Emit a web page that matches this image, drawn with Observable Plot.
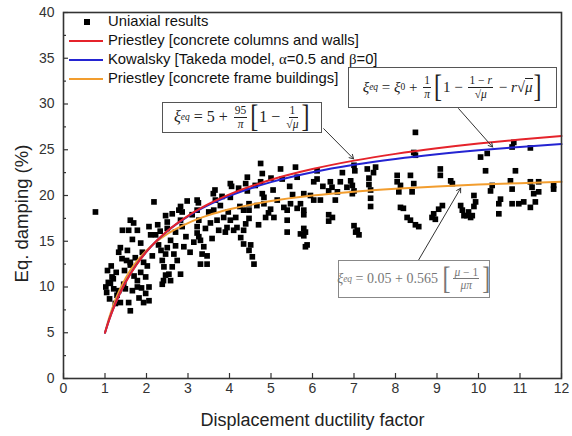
<!DOCTYPE html>
<html><head><meta charset="utf-8">
<script src="https://cdn.jsdelivr.net/npm/d3@7"></script>
<script src="https://cdn.jsdelivr.net/npm/@observablehq/plot@0.6"></script>
<style>
body{margin:0;background:#fff}
#wrap{position:relative;width:572px;height:436px;overflow:hidden}
#legend{position:absolute;left:69px;top:12px;font:14.8px "Liberation Sans",Arial,sans-serif;color:#111;line-height:19px;white-space:nowrap}
#legend .row{height:19px}
#legend .key{display:inline-block;width:34px;height:19px;margin-right:5px;position:relative;vertical-align:top}
#legend .key .ln{position:absolute;left:0;right:0;top:9px;height:2px}
#legend .key .sq{position:absolute;left:15px;top:6.5px;width:6px;height:6px;background:#000}
.box{position:absolute;border:1.5px solid #555;background:#fff;font-family:"Liberation Serif","DejaVu Serif",serif;font-size:15px;color:#222;display:flex;align-items:center;justify-content:center;white-space:nowrap;box-sizing:border-box}
.frac{display:inline-flex;flex-direction:column;align-items:center;vertical-align:middle;font-size:11.5px;line-height:1.1;margin:0 2px}
.frac>span:first-child{border-bottom:0.9px solid currentColor;padding:0 1px}
.br{display:inline-block;font-size:24px;line-height:1;transform:scaleY(1.3);margin:0 1px;font-weight:300}
sub{font-size:9.5px;vertical-align:-3px}
.ov{border-top:0.9px solid currentColor}
</style>
</head><body>
<div id="wrap"></div>
<script>
// ---- data ----
const xTicks = [0,1,2,3,4,5,6,7,8,9,10,11,12];
const yTicks = [0,5,10,15,20,25,30,35,40];
const yMinor = [2.5,7.5,12.5,17.5,22.5,27.5,32.5,37.5];

// Uniaxial results [ductility, damping %]
const uniaxial = [
[0.77,18.2],[1.08,10.5],[1.17,11.1],[1.13,10.4],[1.21,9.8],[1.33,9.6],[1.29,9.1],[1.37,8.3],[1.25,8.2],[1.06,11.8],[1.04,9.4],[1.11,8.7],[1.15,12.3],[1.02,10.0],[1.20,10.9],[1.27,11.6],
[1.57,16.2],[1.61,17.3],[1.78,16.2],[2.06,16.6],[2.10,15.7],[1.86,14.8],[1.66,15.2],[1.37,14.3],[1.33,13.8],[1.41,13.1],[1.61,12.7],[1.61,12.4],[1.90,13.8],[1.93,12.7],[1.86,11.6],[1.98,11.1],[2.06,10.0],[1.78,10.7],[1.78,10.0],[1.66,9.6],[1.49,9.8],[1.45,10.3],[1.57,8.3],[1.61,7.4],[1.98,9.3],[2.06,8.5],[1.93,8.3],[1.47,11.8],[1.54,14.0],[1.73,13.2],[1.42,16.2],[1.69,17.0],[1.52,12.9],[1.70,11.2],[1.82,8.8],[1.88,9.9],[2.02,12.3],
[2.18,19.3],[2.38,10.3],[2.46,11.3],[2.42,12.2],[2.38,12.9],[2.46,13.6],[2.50,14.3],[2.58,15.1],[2.70,14.5],[2.66,13.6],[2.74,12.9],[2.62,12.2],[2.54,11.4],[2.82,11.4],[2.50,16.4],[2.50,17.1],[2.46,17.8],[2.78,18.4],[2.82,17.3],[2.86,16.6],[2.90,14.4],[2.82,18.8],[2.86,18.2],[2.22,15.7],[2.29,14.6],[2.27,16.8],[2.70,16.0],[2.41,10.7],[2.58,10.7],[2.14,13.4],[2.35,14.0],[2.33,16.1],[2.62,18.0],[2.95,15.5],[2.98,19.4],
[3.22,19.5],[3.25,19.2],[3.22,18.4],[3.26,17.3],[3.22,16.6],[3.22,15.9],[3.26,15.5],[3.30,15.1],[3.38,14.4],[3.34,13.6],[3.46,13.4],[3.46,12.5],[3.30,12.5],[3.61,20.2],[3.62,18.4],[3.54,17.0],[3.70,17.3],[3.74,16.2],[3.86,17.6],[3.94,16.5],[3.90,16.0],[3.65,20.6],[3.66,19.5],[3.78,18.9],[3.05,13.8],[3.10,17.9],[3.14,14.9],[3.42,16.4],[3.50,18.2],[3.58,15.3],[3.82,19.9],[3.97,18.2],
[4.02,21.3],[4.05,21.0],[4.02,19.8],[4.02,17.3],[4.10,16.2],[4.15,17.6],[4.18,16.5],[4.27,15.4],[4.34,16.2],[4.34,14.7],[4.47,14.0],[4.55,13.3],[4.59,12.5],[4.51,14.6],[4.39,21.3],[4.43,22.0],[4.43,20.5],[4.47,19.1],[4.47,18.4],[4.34,18.4],[4.39,16.9],[4.47,17.5],[4.75,23.5],[4.79,22.4],[4.75,21.5],[4.79,20.2],[4.83,19.1],[4.87,17.6],[4.83,19.8],[4.99,18.5],[4.94,18.1],[4.22,20.8],[4.25,18.8],[4.62,21.1],[4.66,18.9],[4.70,16.8],
[5.15,19.5],[5.23,22.9],[5.27,21.8],[5.31,18.7],[5.07,17.6],[5.39,18.4],[5.39,17.3],[5.39,16.0],[5.47,19.1],[5.59,23.1],[5.63,22.0],[5.63,18.6],[5.71,19.1],[5.71,15.8],[5.79,16.4],[5.83,16.0],[5.87,14.6],[5.83,14.4],[5.79,15.6],[5.79,20.2],[5.79,18.4],[5.79,17.9],[5.95,20.0],[5.00,21.9],[5.05,20.6],[5.45,21.0],[5.52,20.1],
[6.03,19.5],[6.03,21.5],[6.11,21.8],[6.11,22.7],[6.43,21.5],[6.47,20.9],[6.39,20.5],[6.55,19.5],[6.60,20.4],[6.67,21.5],[6.72,22.5],[6.39,17.9],[6.39,17.2],[6.48,17.6],[6.19,19.5],[6.92,21.6],[6.96,21.1],[7.00,20.5],[6.96,20.2],[7.00,23.3],[7.02,22.7],[7.00,16.7],[7.08,16.2],[7.12,15.7],[7.04,16.0],[6.25,21.0],[6.83,20.9],
[7.32,22.9],[7.52,23.1],[7.47,22.5],[7.36,21.9],[7.36,21.2],[7.40,20.6],[7.40,19.7],[7.40,18.8],[8.04,22.2],[8.04,21.5],[8.12,21.1],[8.08,20.4],[8.36,22.2],[8.44,21.3],[8.40,20.4],[8.12,18.7],[8.19,18.6],[8.28,17.6],[8.36,17.3],[8.48,16.8],[8.56,16.6],[8.48,26.9],[8.44,24.7],[8.48,24.4],
[8.92,18.0],[8.88,17.6],[9.04,18.5],[9.13,18.9],[8.96,17.4],[9.08,22.9],[9.08,22.2],[9.33,21.6],[9.37,21.3],[9.57,18.9],[9.61,18.4],[9.65,17.8],[9.72,17.8],[9.76,18.2],[9.81,17.6],[9.85,17.8],[9.89,20.0],[9.93,19.3],[9.89,18.8],
[10.05,24.2],[10.21,24.6],[10.17,22.7],[10.33,21.1],[10.29,20.5],[10.53,19.6],[10.49,19.1],[10.49,18.0],[10.77,21.6],[10.81,20.7],[10.81,19.1],[10.97,19.1],[11.09,19.3],[11.25,18.7],[11.37,19.3],[10.85,25.8],[10.81,25.3],[11.25,25.2],[10.89,22.7],[11.25,21.5],[11.45,21.5],[11.29,20.9],[11.33,20.2],[11.45,20.4],[11.81,21.1],[11.81,20.7]
];

// Curves, read at these ductility values
const curveMu        = [1, 1.1, 1.25, 1.5, 1.75, 2, 2.5, 3, 3.5, 4, 5, 6, 7, 8, 9, 10, 11, 12];
const priestleyWalls = [5, 6.41, 8.19, 10.55, 12.38, 13.86, 16.11, 17.78, 19.08, 20.12, 21.72, 22.89, 23.81, 24.55, 25.16, 25.68, 26.12, 26.51];
const kowalsky       = [5, 6.42, 8.22, 10.58, 12.41, 13.87, 16.10, 17.72, 18.97, 19.96, 21.46, 22.54, 23.36, 24.00, 24.52, 24.95, 25.31, 25.62];
const priestleyFrame = [5, 6.63, 8.60, 10.99, 12.71, 13.99, 15.79, 16.99, 17.85, 18.49, 19.39, 19.99, 20.42, 20.74, 20.99, 21.19, 21.35, 21.49];

const seriesNames  = ["Uniaxial results","Priestley [concrete columns and walls]","Kowalsky [Takeda model, \u03b1=0.5 and \u03b2=0]","Priestley [concrete frame buildings]"];
const seriesColors = ["#000000","#e5232b","#2424d2","#f29d2e"];

// Annotation arrows (from box to curve), data units
const arrows = [
  {x1:9.52, y1:29.5, x2:10.34, y2:25.3},
  {x1:6.27, y1:27.3, x2:6.99, y2:24.0},
  {x1:8.55, y1:12.9, x2:9.57, y2:20.8}
];
// Formula boxes: top-left corner in data units, size in px
const boxes = [
  {mu:6.87, xi:34.0, w:209, h:41, key:"kow"},
  {mu:2.39, xi:30.2, w:160, h:31, key:"pw"},
  {mu:6.63, xi:12.9, w:152, h:38, key:"pf"}
];

// ---- chart ----
const lineRows = (ys) => curveMu.map((m,i)=>({mu:m, xi:ys[i]}));
const W=572,H=436,ML=63,MR=11,MT=12,MB=58;
const frameW = W-ML-MR, frameH = H-MT-MB;

const chart = Plot.plot({
  width:W, height:H, marginLeft:ML, marginRight:MR, marginTop:MT, marginBottom:MB,
  style:{fontFamily:"'Liberation Sans', Arial, sans-serif", fontSize:"14px", color:"#333", background:"#fff"},
  x:{domain:[0,12]},
  y:{domain:[0,40]},
  marks:[
    Plot.dot(uniaxial, {x:d=>d[0], y:d=>d[1], symbol:"square", r:3.2, fill:seriesColors[0], stroke:null}),
    Plot.line(lineRows(priestleyFrame), {x:"mu", y:"xi", stroke:seriesColors[3], strokeWidth:2, curve:"monotone-x"}),
    Plot.line(lineRows(kowalsky), {x:"mu", y:"xi", stroke:seriesColors[2], strokeWidth:2, curve:"monotone-x"}),
    Plot.line(lineRows(priestleyWalls), {x:"mu", y:"xi", stroke:seriesColors[1], strokeWidth:2, curve:"monotone-x"}),
    Plot.arrow(arrows, {x1:"x1", y1:"y1", x2:"x2", y2:"y2", stroke:"#333", strokeWidth:1, headLength:7}),
    Plot.tickX(xTicks, {x:d=>d, insetTop:frameH-5, stroke:"#333", strokeWidth:1.2}),
    Plot.tickY(yTicks, {y:d=>d, insetRight:frameW-5, stroke:"#333", strokeWidth:1.2}),
    Plot.tickY(yMinor, {y:d=>d, insetRight:frameW-3, stroke:"#333", strokeWidth:1.2}),
    Plot.axisX({ticks:xTicks, tickSize:0, tickPadding:5, label:null, tickFormat:d=>String(d)}),
    Plot.axisY({ticks:yTicks, tickSize:0, tickPadding:9, label:null, tickFormat:d=>String(d)}),
    Plot.frame({stroke:"#333", strokeWidth:1.6}),
    Plot.text(["Displacement ductility factor"], {frameAnchor:"bottom", textAnchor:"middle", lineAnchor:"middle", dy:42, fontSize:18, fill:"#222"}),
    Plot.text(["Eq. damping (%)"], {frameAnchor:"left", textAnchor:"middle", lineAnchor:"middle", dx:-41, dy:18, rotate:-90, fontSize:18.5, fill:"#222"})
  ]
});
const wrap = document.getElementById("wrap");
wrap.appendChild(chart);

// ---- legend ----
const lg = document.createElement("div");
lg.id = "legend";
lg.innerHTML = seriesNames.map((n,i)=>`<div class="row"><span class="key">${i===0?'<span class="sq"></span>':`<span class="ln" style="background:${seriesColors[i]}"></span>`}</span>${n.replace(/([\u03b1\u03b2])/g,'<span style="font-family:\'Liberation Serif\',serif">$1</span>')}</div>`).join("");
wrap.appendChild(lg);

// ---- formula boxes ----
const I = s=>`<i>${s}</i>`;
const frac = (a,b)=>`<span class="frac"><span>${a}</span><span>${b}</span></span>`;
const sqrtMu = `√<span class="ov">${I("μ")}</span>`;
const br = (s)=>`<span class="br">${s}</span>`;
const formulas = {
  kow: `${I("ξ")}<sub>${I("eq")}</sub>&nbsp;=&nbsp;${I("ξ")}<sub>0</sub>&nbsp;+&nbsp;${frac("1",I("π"))}${br("[")}1&nbsp;−&nbsp;${frac("1 − "+I("r"),sqrtMu)}&nbsp;−&nbsp;${I("r")}${sqrtMu}${br("]")}`,
  pw: `${I("ξ")}<sub>${I("eq")}</sub>&nbsp;=&nbsp;5&nbsp;+&nbsp;${frac("95",I("π"))}${br("[")}1&nbsp;−&nbsp;${frac("1",sqrtMu)}${br("]")}`,
  pf: `${I("ξ")}<sub>${I("eq")}</sub>&nbsp;=&nbsp;0.05&nbsp;+&nbsp;0.565&nbsp;${br("[")}${frac(I("μ")+" − 1",I("μπ"))}${br("]")}`
};
const sx = chart.scale("x"), sy = chart.scale("y");
boxes.forEach(b=>{
  const d = document.createElement("div");
  d.className = "box";
  d.style.left = sx.apply(b.mu)+"px";
  d.style.top = sy.apply(b.xi)+"px";
  d.style.width = b.w+"px";
  d.style.height = b.h+"px";
  if (b.key==="pf"){ d.style.color="#777"; d.style.borderColor="#888"; d.style.fontSize="14px"; }
  if (b.key==="pw"){ d.style.fontSize="16px"; }
  d.innerHTML = formulas[b.key];
  wrap.appendChild(d);
});
</script>
</body></html>
